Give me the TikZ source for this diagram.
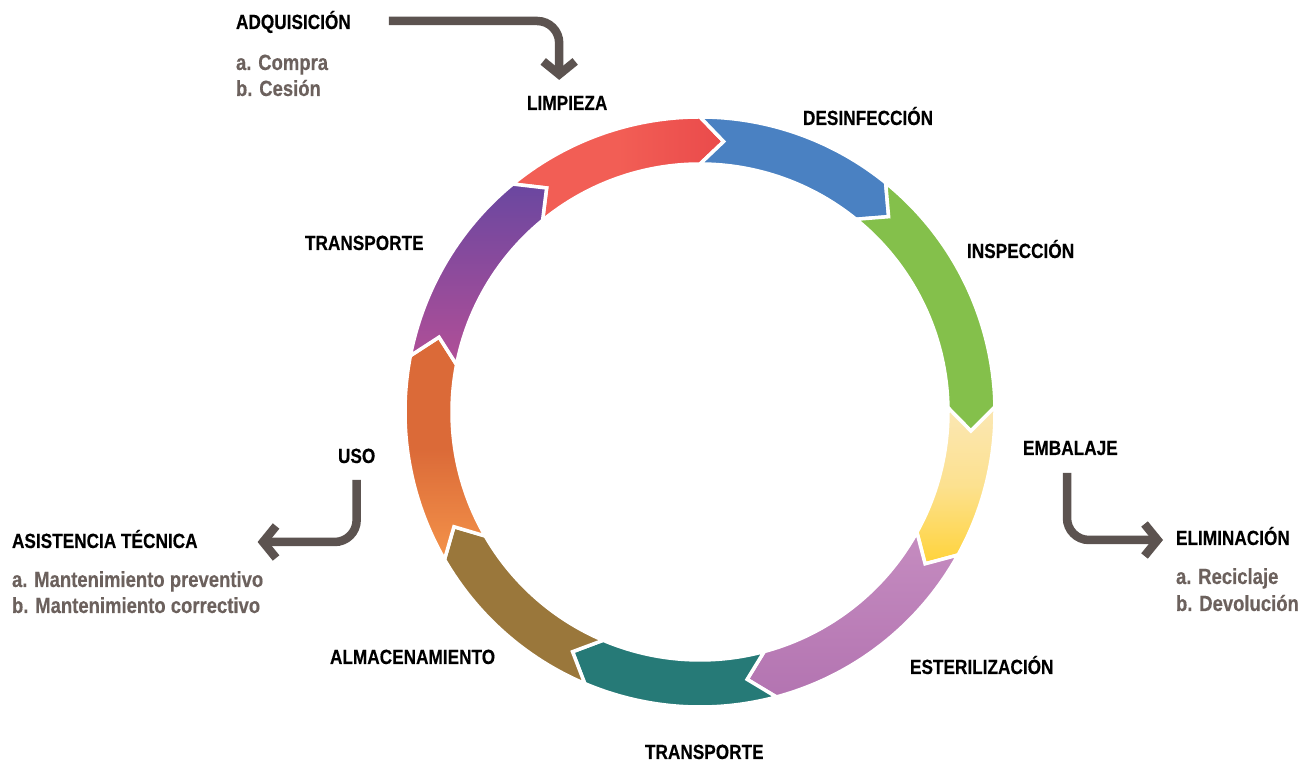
\documentclass[tikz,border=0pt]{standalone}
\usepackage{fontspec}
\newfontfamily\condfont{Liberation Sans}[FakeStretch=0.84, FakeBold=0.3]
\usetikzlibrary{arrows.meta}

\definecolor{arrowgray}{HTML}{5C5350}
\definecolor{subgray}{HTML}{6C615D}
\definecolor{limpA}{HTML}{F25E55}
\definecolor{limpB}{HTML}{EA4A4B}
\definecolor{desinfC}{HTML}{4A81C2}
\definecolor{inspC}{HTML}{84C04B}
\definecolor{embA}{HTML}{FBE7B4}
\definecolor{embB}{HTML}{FFD33A}
\definecolor{esterA}{HTML}{C58CC0}
\definecolor{esterB}{HTML}{B374B1}
\definecolor{transbC}{HTML}{267A77}
\definecolor{almacC}{HTML}{9A773B}
\definecolor{usoA}{HTML}{DB6A38}
\definecolor{usoB}{HTML}{F4934A}
\definecolor{translA}{HTML}{6A47A0}
\definecolor{translB}{HTML}{B24F97}

\tikzset{
    steplabel/.style = {font = \condfont\bfseries\fontsize{20.5}{24}\selectfont, inner sep = 0pt, outer sep = 0pt, anchor = base west},
    sublabel/.style = {font = \condfont\bfseries\fontsize{22}{26}\selectfont, text = subgray, inner sep = 0pt, outer sep = 0pt, anchor = base west},
    flow/.style = {draw = arrowgray, line width = 8.5pt, rounded corners = 22pt, -{Straight Barb[sharp, length = 13pt, width = 32pt]}},
    seg/.style = {draw = white, line width = 3.5pt, line join = miter},
    limpfill/.style = {left color = limpA, right color = limpB, middle color = limpA},
    desinffill/.style = {fill = desinfC},
    inspfill/.style = {fill = inspC},
    embfill/.style = {top color = embA, bottom color = embB, middle color = embA!70!embB},
    esterfill/.style = {top color = esterA, bottom color = esterB},
    transbfill/.style = {fill = transbC},
    almacfill/.style = {fill = almacC},
    usofill/.style = {top color = usoA, bottom color = usoB, middle color = usoA},
    translfill/.style = {top color = translA, bottom color = translB}
}

\begin{document}
\begin{tikzpicture}[x = 1pt, y = 1pt]
    \useasboundingbox[fill = white] (0, 0) rectangle (1310, 765);

    % ring of steps
    \coordinate (center) at (700, 353);
    \begin{scope}[shift = {(center)}]
        \foreach \p/\b/\sty in {124.4/85/limpfill, 85/46/desinffill, 46/-4/inspfill, -4/-34/embfill, -34/-80/esterfill, -80/-118/transbfill, -118/-155/almacfill, -155/-196/usofill, -196/-235.6/translfill}
            {
                \pgfmathsetmacro\a{\p + 5};
                \pgfmathsetmacro\h{\b + 5};
                \path[seg, \sty] (\a:295) arc[start angle = \a, end angle = \h, radius = 295] -- (\b:271.5) -- (\h:248) arc[start angle = \h, end angle = \a, radius = 248] -- (\p:271.5) -- cycle;
            }
    \end{scope}

    % labels
    \node[steplabel] (limp) at (527, 655) {LIMPIEZA};
    \node[steplabel] (desinf) at (803, 640) {DESINFECCIÓN};
    \node[steplabel] (insp) at (967, 507) {INSPECCIÓN};
    \node[steplabel] (emb) at (1023, 310) {EMBALAJE};
    \node[steplabel] (ester) at (910, 91) {ESTERILIZACIÓN};
    \node[steplabel] (transb) at (645, 6) {TRANSPORTE};
    \node[steplabel] (almac) at (330, 101) {ALMACENAMIENTO};
    \node[steplabel] (uso) at (338, 302) {USO};
    \node[steplabel] (transl) at (305, 515) {TRANSPORTE};

    \node[steplabel] (adq) at (236, 736) {ADQUISICIÓN};
    \node[sublabel] (compra) at ([yshift = -41pt]adq.base west) {a. Compra};
    \node[sublabel] (cesion) at ([yshift = -26pt]compra.base west) {b. Cesión};

    \node[steplabel] (asis) at (12, 217) {ASISTENCIA TÉCNICA};
    \node[sublabel] (preventivo) at ([yshift = -39pt]asis.base west) {a. Mantenimiento preventivo};
    \node[sublabel] (correctivo) at ([yshift = -26pt]preventivo.base west) {b. Mantenimiento correctivo};

    \node[steplabel] (elim) at (1176, 220) {ELIMINACIÓN};
    \node[sublabel] (reciclaje) at ([yshift = -39pt]elim.base west) {a. Reciclaje};
    \node[sublabel] (devolucion) at ([yshift = -27pt]reciclaje.base west) {b. Devolución};

    % side arrows
    \draw[flow] ([xshift = 38pt, yshift = 8pt]adq.base east) -| ([xshift = -8pt, yshift = 16pt]limp.north);
    \draw[flow] ([yshift = -17pt]uso.base) |- ([xshift = 60pt, yshift = 6pt]asis.base east);
    \draw[flow] ([xshift = 44pt, yshift = -18pt]emb.base west) |- ([xshift = -13pt, yshift = 5pt]elim.base west);
\end{tikzpicture}
\end{document}
